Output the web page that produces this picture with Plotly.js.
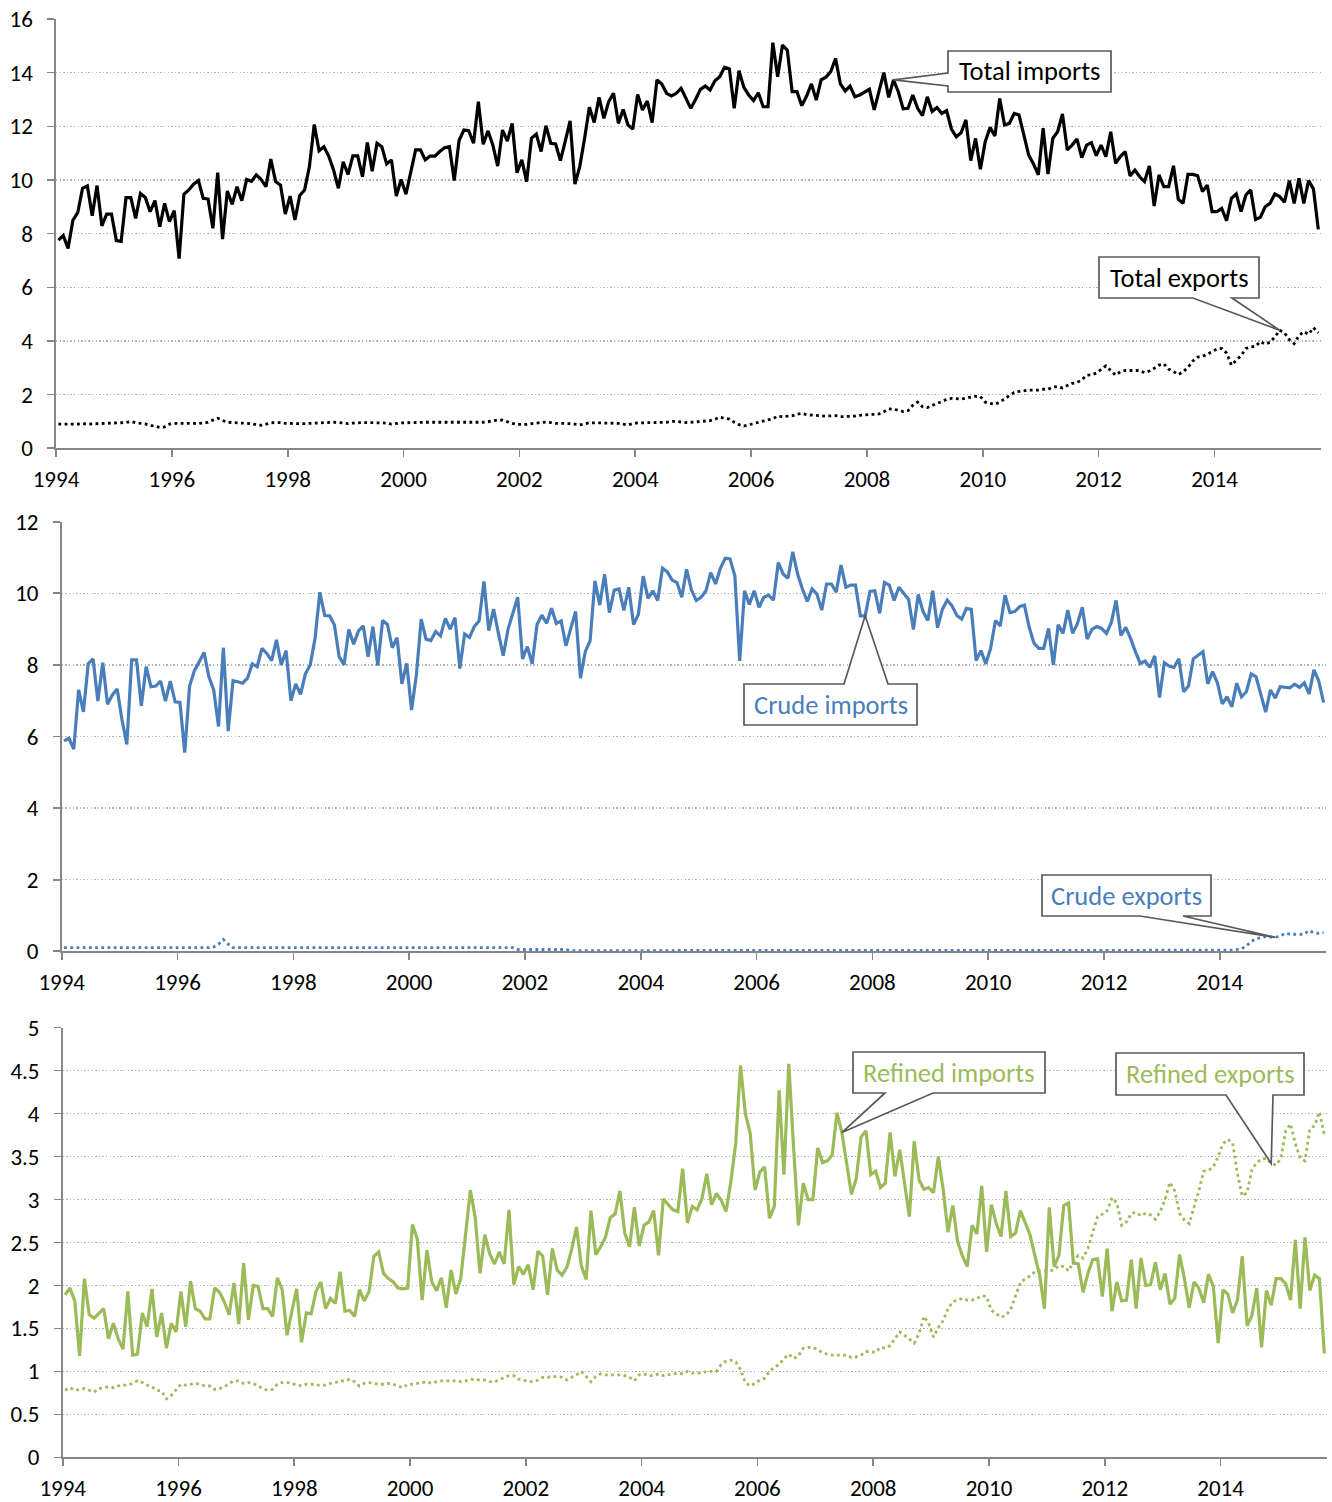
<!DOCTYPE html>
<html><head><meta charset="utf-8">
<script src="https://cdn.plot.ly/plotly-3.0.1.min.js"></script>
<style>html,body{margin:0;padding:0;background:#fff;}#chart{width:1332px;height:1502px;}</style>
</head><body><div id="chart"></div>
<script>
// ---------------- DATA (monthly, Jan 1994 - Oct 2015) ----------------
const startYear = 1994;
const tickYears = [1994,1996,1998,2000,2002,2004,2006,2008,2010,2012,2014];

const totalImports = [
7.76,7.93,7.45,8.5,8.78,9.69,9.78,8.67,9.79,8.29,
8.73,8.73,7.74,7.71,9.34,9.34,8.57,9.5,9.35,8.82,
9.23,8.26,9.13,8.45,8.86,7.07,9.47,9.63,9.84,9.98,
9.32,9.29,8.2,10.27,7.8,9.59,9.09,9.75,9.23,10.02,
9.95,10.19,10.02,9.75,10.78,9.94,9.81,8.73,9.4,8.51,
9.42,9.63,10.5,12.07,11.09,11.24,10.89,10.37,9.69,10.68,
10.21,10.9,10.9,10.12,11.4,10.33,11.37,11.24,10.6,10.75,
9.4,10.02,9.47,10.29,11.12,11.12,10.75,10.89,10.89,11.06,
11.2,11.24,9.98,11.47,11.86,11.84,11.37,12.92,11.33,11.83,
11.3,10.52,11.86,11.45,12.11,10.27,10.75,9.94,11.55,11.71,
11.06,12.02,11.37,11.34,10.72,11.45,12.2,9.85,10.5,11.55,
12.71,12.14,13.08,12.3,12.92,13.23,12.11,12.63,12.05,11.9,
13.19,12.61,12.94,12.14,13.73,13.58,13.23,13.13,13.23,13.42,
13.04,12.67,13.0,13.38,13.5,13.35,13.7,13.85,14.2,14.14,
12.67,14.07,13.45,13.17,12.96,13.25,12.73,12.73,15.12,13.85,
15.03,14.84,13.29,13.29,12.77,13.13,13.58,12.98,13.73,13.83,
14.04,14.53,13.58,13.32,13.5,13.1,13.17,13.29,13.38,12.61,
13.35,14.0,13.08,13.73,13.29,12.65,12.67,13.17,12.67,12.4,
13.1,12.55,12.7,12.48,12.58,11.9,11.61,11.76,12.24,10.72,
11.55,10.4,11.43,11.96,11.64,13.04,12.05,12.11,12.48,12.42,
11.68,10.93,10.6,10.19,11.93,10.22,11.55,11.8,12.46,11.12,
11.3,11.53,10.83,11.3,11.39,10.91,11.3,10.87,11.8,10.62,
10.87,11.06,10.15,10.37,10.12,9.94,10.52,9.03,10.19,9.75,
9.75,10.53,9.28,9.13,10.21,10.21,10.16,9.57,9.81,8.82,
8.82,8.94,8.48,9.32,9.48,8.82,9.44,9.63,8.53,8.61,
9.0,9.13,9.48,9.38,9.17,9.98,9.13,10.06,9.13,9.98,
9.66,8.16];

const totalExports = [
0.9,0.9,0.88,0.9,0.9,0.92,0.9,0.91,0.92,0.93,
0.94,0.94,0.95,0.95,0.96,1.0,0.95,0.93,0.91,0.85,
0.83,0.78,0.8,0.9,0.93,0.93,0.94,0.93,0.93,0.92,
0.95,0.97,1.05,1.12,1.04,0.97,0.96,0.95,0.93,0.93,
0.92,0.88,0.86,0.9,0.95,0.96,0.96,0.93,0.92,0.92,
0.92,0.92,0.93,0.93,0.94,0.96,0.96,0.97,0.96,0.95,
0.92,0.94,0.96,0.96,0.96,0.96,0.95,0.95,0.94,0.9,
0.93,0.95,0.95,0.96,0.96,0.96,0.97,0.97,0.97,0.97,
0.96,0.96,0.96,0.96,0.96,0.96,0.96,0.96,0.97,0.99,
1.02,1.06,1.05,0.98,0.93,0.89,0.88,0.89,0.92,0.94,
0.96,0.98,0.96,0.93,0.93,0.93,0.92,0.9,0.87,0.91,
0.95,0.95,0.95,0.95,0.95,0.94,0.93,0.9,0.87,0.92,
0.95,0.95,0.95,0.96,0.96,0.96,0.97,1.0,1.01,0.98,
0.96,0.97,0.98,1.0,1.0,1.03,1.08,1.16,1.12,1.09,
0.97,0.88,0.83,0.88,0.93,0.96,1.02,1.06,1.1,1.2,
1.18,1.19,1.21,1.27,1.3,1.25,1.24,1.23,1.2,1.2,
1.21,1.22,1.18,1.18,1.19,1.2,1.23,1.24,1.25,1.28,
1.28,1.36,1.47,1.46,1.42,1.37,1.4,1.6,1.72,1.55,
1.52,1.6,1.65,1.76,1.82,1.86,1.86,1.84,1.87,1.91,
1.94,1.93,1.72,1.67,1.64,1.72,1.85,1.95,2.08,2.12,
2.15,2.17,2.17,2.17,2.2,2.2,2.28,2.3,2.25,2.35,
2.42,2.45,2.55,2.72,2.74,2.8,2.95,3.07,2.9,2.73,
2.85,2.9,2.9,2.9,2.9,2.82,2.88,2.98,3.1,3.15,
2.95,2.86,2.75,2.85,3.02,3.25,3.4,3.42,3.5,3.6,
3.7,3.72,3.55,3.1,3.28,3.45,3.72,3.78,3.8,3.98,
3.88,3.95,4.15,4.4,4.3,4.05,3.9,4.2,4.35,4.25,
4.5,4.3];

const crudeImports = [
5.88,5.95,5.65,7.3,6.69,8.03,8.17,6.99,8.06,6.9,
7.16,7.33,6.46,5.78,8.14,8.14,6.86,7.95,7.39,7.41,
7.55,6.99,7.55,6.97,6.95,5.55,7.41,7.84,8.09,8.35,
7.67,7.3,6.28,8.48,6.15,7.56,7.53,7.49,7.63,8.03,
7.95,8.46,8.32,8.12,8.7,8.0,8.4,7.0,7.47,7.18,
7.75,8.0,8.74,10.03,9.38,9.37,9.12,8.23,8.0,8.99,
8.58,8.95,9.09,8.23,9.07,7.98,9.24,9.13,8.48,8.76,
7.47,8.04,6.74,7.72,9.28,8.72,8.68,8.93,8.81,9.3,
9.0,9.32,7.9,8.86,8.77,9.07,9.23,10.33,8.96,9.56,
8.88,8.26,9.0,9.44,9.89,8.17,8.51,8.03,9.13,9.39,
9.16,9.58,9.16,9.23,8.53,9.02,9.49,7.63,8.37,8.67,
10.35,9.67,10.53,9.46,10.09,10.12,9.52,10.17,9.13,9.41,
10.48,9.86,10.07,9.8,10.7,10.6,10.37,10.3,9.89,10.67,
10.09,9.8,9.89,10.07,10.58,10.26,10.7,10.98,10.96,10.48,
8.11,10.07,9.69,10.07,9.61,9.89,9.95,9.81,10.86,10.54,
10.42,11.16,10.54,10.12,9.77,10.12,9.98,9.53,10.26,10.26,
10.03,10.79,10.17,10.23,10.23,9.37,9.37,10.05,10.07,9.44,
10.3,10.23,9.8,10.17,10.0,9.83,8.99,9.97,9.49,9.24,
10.07,9.04,9.55,9.81,9.65,9.38,9.28,9.58,9.55,8.12,
8.4,8.03,8.46,9.24,9.09,9.95,9.46,9.49,9.63,9.67,
9.05,8.6,8.46,8.46,9.02,8.0,9.12,8.88,9.53,8.88,
9.16,9.61,8.72,8.99,9.07,9.02,8.88,9.18,9.8,8.82,
9.05,8.74,8.37,8.04,8.11,7.93,8.25,7.09,8.06,7.97,
7.93,8.17,7.25,7.41,8.17,8.26,8.37,7.47,7.81,7.5,
6.91,7.11,6.83,7.49,7.11,7.25,7.75,7.67,7.21,6.68,
7.3,7.07,7.39,7.37,7.36,7.46,7.37,7.5,7.19,7.86,
7.55,6.95];

const crudeExports = [
0.1,0.1,0.1,0.1,0.1,0.1,0.1,0.1,0.1,0.1,
0.1,0.1,0.1,0.1,0.1,0.1,0.1,0.1,0.08,0.08,
0.08,0.08,0.08,0.08,0.08,0.08,0.1,0.1,0.1,0.1,
0.1,0.12,0.2,0.33,0.2,0.1,0.1,0.1,0.1,0.1,
0.1,0.1,0.1,0.1,0.1,0.1,0.1,0.1,0.1,0.1,
0.1,0.1,0.1,0.1,0.1,0.1,0.1,0.1,0.1,0.1,
0.1,0.1,0.1,0.1,0.1,0.1,0.1,0.1,0.1,0.1,
0.1,0.1,0.1,0.1,0.1,0.1,0.1,0.1,0.1,0.1,
0.1,0.1,0.1,0.1,0.1,0.1,0.1,0.1,0.1,0.1,
0.1,0.1,0.1,0.1,0.05,0.05,0.05,0.05,0.05,0.05,
0.05,0.05,0.05,0.05,0.05,0.02,0.02,0.02,0.02,0.02,
0.02,0.02,0.02,0.02,0.02,0.02,0.02,0.02,0.02,0.02,
0.02,0.02,0.02,0.02,0.02,0.02,0.02,0.02,0.02,0.02,
0.02,0.02,0.02,0.02,0.02,0.02,0.02,0.02,0.02,0.02,
0.02,0.02,0.02,0.02,0.02,0.02,0.02,0.02,0.02,0.02,
0.02,0.02,0.02,0.02,0.02,0.02,0.02,0.02,0.02,0.02,
0.02,0.02,0.02,0.02,0.02,0.02,0.02,0.02,0.02,0.02,
0.02,0.02,0.02,0.02,0.02,0.02,0.02,0.02,0.02,0.02,
0.02,0.02,0.02,0.02,0.02,0.02,0.02,0.02,0.02,0.02,
0.02,0.02,0.02,0.02,0.02,0.02,0.02,0.02,0.02,0.02,
0.02,0.03,0.03,0.03,0.03,0.03,0.03,0.03,0.03,0.03,
0.03,0.03,0.03,0.03,0.03,0.03,0.03,0.03,0.03,0.03,
0.03,0.03,0.03,0.03,0.03,0.03,0.03,0.03,0.03,0.03,
0.03,0.03,0.03,0.03,0.03,0.03,0.03,0.03,0.03,0.03,
0.03,0.03,0.03,0.05,0.07,0.15,0.27,0.35,0.39,0.41,
0.4,0.39,0.42,0.5,0.48,0.47,0.47,0.48,0.58,0.51,
0.5,0.52];

const refinedImports = [
1.89,1.97,1.82,1.18,2.08,1.66,1.62,1.68,1.73,1.38,
1.56,1.38,1.26,1.93,1.19,1.2,1.68,1.52,1.96,1.4,
1.68,1.27,1.56,1.46,1.93,1.52,2.05,1.73,1.7,1.61,
1.61,1.97,1.92,1.81,1.66,2.03,1.55,2.26,1.6,2.0,
1.99,1.73,1.73,1.64,2.09,1.95,1.42,1.7,1.96,1.34,
1.68,1.67,1.93,2.04,1.73,1.85,1.79,2.16,1.7,1.71,
1.64,1.95,1.82,1.93,2.34,2.39,2.14,2.08,2.04,1.97,
1.96,1.97,2.71,2.54,1.83,2.41,2.04,1.94,2.09,1.74,
2.18,1.9,2.08,2.59,3.11,2.79,2.14,2.59,2.37,2.25,
2.39,2.25,2.88,2.01,2.22,2.13,2.24,1.95,2.4,2.34,
1.89,2.43,2.18,2.12,2.21,2.42,2.68,2.23,2.07,2.87,
2.36,2.45,2.56,2.79,2.83,3.1,2.61,2.45,2.91,2.46,
2.7,2.74,2.87,2.35,3.01,2.94,2.88,2.86,3.36,2.73,
2.92,2.88,3.01,3.3,2.94,3.07,2.99,2.86,3.21,3.65,
4.56,4.0,3.77,3.11,3.32,3.38,2.78,2.92,4.27,3.29,
4.58,3.6,2.7,3.19,3.0,3.0,3.6,3.43,3.45,3.52,
4.01,3.78,3.41,3.06,3.25,3.73,3.8,3.29,3.33,3.14,
3.19,3.78,3.27,3.58,3.19,2.8,3.68,3.23,3.12,3.14,
3.08,3.5,3.12,2.62,2.93,2.51,2.34,2.22,2.7,2.6,
3.16,2.39,2.94,2.72,2.57,3.1,2.57,2.61,2.87,2.74,
2.59,2.35,2.12,1.73,2.91,2.22,2.35,2.93,2.96,2.26,
2.25,1.92,2.14,2.3,2.31,1.87,2.43,1.7,2.04,1.82,
1.83,2.3,1.73,2.32,2.0,2.01,2.27,1.95,2.14,1.78,
1.85,2.36,2.08,1.74,2.04,1.97,1.8,2.13,1.99,1.33,
1.95,1.9,1.68,1.83,2.34,1.53,1.65,1.97,1.28,1.94,
1.77,2.08,2.08,2.02,1.83,2.53,1.73,2.56,1.94,2.12,
2.08,1.21];

const refinedExports = [
0.78,0.81,0.78,0.79,0.8,0.78,0.76,0.8,0.81,0.82,
0.81,0.83,0.84,0.84,0.86,0.89,0.87,0.84,0.82,0.78,
0.77,0.68,0.72,0.78,0.85,0.84,0.85,0.86,0.85,0.83,
0.83,0.79,0.8,0.82,0.86,0.89,0.89,0.86,0.87,0.86,
0.83,0.8,0.78,0.79,0.85,0.87,0.87,0.86,0.84,0.83,
0.85,0.85,0.84,0.84,0.84,0.86,0.87,0.89,0.89,0.91,
0.88,0.83,0.86,0.87,0.86,0.85,0.85,0.86,0.85,0.83,
0.81,0.85,0.85,0.86,0.87,0.88,0.86,0.88,0.89,0.89,
0.89,0.89,0.88,0.89,0.91,0.9,0.9,0.9,0.88,0.88,
0.9,0.93,0.95,0.95,0.91,0.9,0.88,0.88,0.9,0.93,
0.93,0.94,0.94,0.93,0.9,0.93,0.96,1.0,0.94,0.88,
0.94,0.97,0.96,0.96,0.96,0.96,0.95,0.93,0.89,0.96,
0.97,0.95,0.95,0.97,0.95,0.96,0.97,0.98,0.97,1.0,
0.98,0.98,0.98,1.0,1.0,1.0,1.08,1.12,1.13,1.11,
1.02,0.87,0.83,0.86,0.9,0.92,1.0,1.05,1.08,1.15,
1.2,1.15,1.18,1.27,1.28,1.28,1.25,1.22,1.2,1.19,
1.19,1.19,1.19,1.16,1.17,1.19,1.23,1.23,1.22,1.28,
1.27,1.3,1.38,1.46,1.42,1.37,1.33,1.44,1.64,1.56,
1.4,1.51,1.59,1.73,1.81,1.83,1.85,1.83,1.83,1.85,
1.88,1.87,1.71,1.67,1.63,1.65,1.72,1.88,2.03,2.08,
2.11,2.16,2.17,2.17,2.17,2.18,2.23,2.22,2.17,2.28,
2.35,2.32,2.43,2.62,2.8,2.83,2.87,3.02,2.96,2.7,
2.74,2.84,2.85,2.81,2.84,2.82,2.77,2.86,3.0,3.2,
3.1,2.84,2.76,2.72,2.9,3.1,3.33,3.34,3.38,3.5,
3.65,3.7,3.66,3.3,3.04,3.08,3.35,3.43,3.47,3.48,
3.42,3.4,3.48,3.8,3.88,3.65,3.48,3.45,3.82,3.86,
4.02,3.75];

const calloutLabels = ['Total imports','Total exports','Crude imports','Crude exports','Refined imports','Refined exports'];

// ---------------- STYLE / LAYOUT ----------------
const W = 1332, H = 1502;
const FONT = 'Carlito, Calibri, Lato, sans-serif';
const BLACK = '#000000', BLUE = '#4A7EBB', GREEN = '#9BBB59';
const nMonths = totalImports.length;
const months = totalImports.map((_, i) => startYear + (i + 0.5) / 12);
const XR = [startYear, startYear + nMonths / 12];

const P = {
  top: {xa:'x',  ya:'y',  px:[56, 1320.7],  py:[19, 448.3],     yr:[0,16], dtick:2},
  mid: {xa:'x2', ya:'y2', px:[61.7, 1326],  py:[521.7, 951.3],  yr:[0,12], dtick:2},
  bot: {xa:'x3', ya:'y3', px:[62.7, 1326.7],py:[1027.7, 1457.3],yr:[0,5],  dtick:0.5}
};
const toX = (p, px) => XR[0] + (px - p.px[0]) / (p.px[1] - p.px[0]) * (XR[1] - XR[0]);
const toY = (p, py) => p.yr[0] + (p.py[1] - py) / (p.py[1] - p.py[0]) * (p.yr[1] - p.yr[0]);

function solid(y, color, p){ return {x: months, y, xaxis:p.xa, yaxis:p.ya, type:'scatter', mode:'lines',
  line:{color, width:3.2}, hoverinfo:'skip', showlegend:false}; }
function dotted(y, color, p){ return {x: months, y, xaxis:p.xa, yaxis:p.ya, type:'scatter', mode:'lines',
  line:{color, width:2.8, dash:'2.8px,3.4px'}, hoverinfo:'skip', showlegend:false}; }

const data = [
  solid(totalImports, BLACK, P.top), dotted(totalExports, BLACK, P.top),
  solid(crudeImports, BLUE, P.mid), dotted(crudeExports, BLUE, P.mid),
  solid(refinedImports, GREEN, P.bot), dotted(refinedExports, GREEN, P.bot)
];

const AX = '#868686';
const TICKFONT = {family:FONT, size:23, color:'#000'};
function xAxis(p){ return {domain:[p.px[0]/W, p.px[1]/W], range:XR, anchor:p.ya, tickvals:tickYears,
  ticktext:tickYears.map(String), showline:true, linecolor:AX, linewidth:1.6, ticks:'outside', ticklen:7,
  tickwidth:1.6, tickcolor:AX, showgrid:false, zeroline:false, ticklabelstandoff:2,
  tickfont:TICKFONT, fixedrange:true}; }
function yAxis(p){ return {domain:[1 - p.py[1]/H, 1 - p.py[0]/H], range:p.yr, anchor:p.xa, tick0:0, dtick:p.dtick,
  showline:true, linecolor:AX, linewidth:1.6, ticks:'outside', ticklen:7, tickwidth:1.6, tickcolor:AX,
  showgrid:true, gridcolor:'#B4B4B4', gridwidth:1.4, griddash:'1.4px,2.2px', zeroline:false, ticklabelstandoff:10,
  tickfont:TICKFONT, fixedrange:true}; }

// Callouts: box in page pixels (layout), tip anchored on a data point of the series
const callouts = [
  {p:P.top, label:calloutLabels[0], color:BLACK, box:[948,1111,51,92],   side:'left',   a:73,   b:86,   series:totalImports,  idx:173},
  {p:P.top, label:calloutLabels[1], color:BLACK, box:[1099,1259,257,298],side:'bottom', a:1193, b:1232, series:totalExports,  idx:253},
  {p:P.mid, label:calloutLabels[2], color:BLUE,  box:[744,917,684,725],  side:'top',    a:844,  b:888,  series:crudeImports,  idx:166},
  {p:P.mid, label:calloutLabels[3], color:BLUE,  box:[1042,1211,875,916],side:'bottom', a:1140, b:1183, series:crudeExports,  idx:251},
  {p:P.bot, label:calloutLabels[4], color:GREEN, box:[853,1045,1052,1093],side:'bottom',a:885,  b:933,  series:refinedImports,idx:161},
  {p:P.bot, label:calloutLabels[5], color:GREEN, box:[1116,1304,1053,1095],side:'bottom',a:1226,b:1273, series:refinedExports,idx:250}
];

const shapes = [], annotations = [];
callouts.forEach(c => {
  const p = c.p, [x0p, x1p, y0p, y1p] = c.box;
  const X = v => toX(p, v), Y = v => toY(p, v);
  const tx = months[c.idx], ty = c.series[c.idx];
  const pt = (x, y) => x + ',' + y;
  let path;
  if (c.side === 'left') {
    path = 'M' + pt(X(x0p), Y(y0p)) + ' L' + pt(X(x1p), Y(y0p)) + ' L' + pt(X(x1p), Y(y1p)) + ' L' + pt(X(x0p), Y(y1p)) +
      ' L' + pt(X(x0p), Y(c.b)) + ' L' + pt(tx, ty) + ' L' + pt(X(x0p), Y(c.a)) + ' Z';
  } else if (c.side === 'bottom') {
    path = 'M' + pt(X(x0p), Y(y0p)) + ' L' + pt(X(x1p), Y(y0p)) + ' L' + pt(X(x1p), Y(y1p)) + ' L' + pt(X(c.b), Y(y1p)) +
      ' L' + pt(tx, ty) + ' L' + pt(X(c.a), Y(y1p)) + ' L' + pt(X(x0p), Y(y1p)) + ' Z';
  } else {
    path = 'M' + pt(X(x0p), Y(y0p)) + ' L' + pt(X(c.a), Y(y0p)) + ' L' + pt(tx, ty) + ' L' + pt(X(c.b), Y(y0p)) +
      ' L' + pt(X(x1p), Y(y0p)) + ' L' + pt(X(x1p), Y(y1p)) + ' L' + pt(X(x0p), Y(y1p)) + ' Z';
  }
  shapes.push({type:'path', path, xref:p.xa, yref:p.ya, fillcolor:'#FFFFFF', layer:'above',
    line:{color:'#595959', width:1.7}});
  annotations.push({xref:p.xa, yref:p.ya, x:X((x0p + x1p)/2), y:Y((y0p + y1p)/2), text:c.label, showarrow:false,
    xanchor:'center', yanchor:'middle', font:{family:FONT, size:26.5, color:c.color}});
});

const layout = {
  width:W, height:H, margin:{l:0, r:0, t:0, b:0}, paper_bgcolor:'#FFFFFF', plot_bgcolor:'#FFFFFF',
  showlegend:false, font:{family:FONT},
  xaxis:xAxis(P.top), yaxis:yAxis(P.top),
  xaxis2:xAxis(P.mid), yaxis2:yAxis(P.mid),
  xaxis3:xAxis(P.bot), yaxis3:yAxis(P.bot),
  shapes, annotations
};
Plotly.newPlot('chart', data, layout, {staticPlot:true, displayModeBar:false});
</script>
</body></html>
